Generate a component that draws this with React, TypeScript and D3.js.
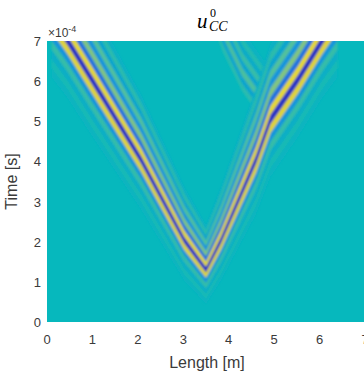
import React from 'react';
import * as d3 from 'd3';

const lengthTicks = [0, 1, 2, 3, 4, 5, 6, 7];
const timeTicks = [0, 1, 2, 3, 4, 5, 6, 7];

// main wavefront, centre (dark) stripe: x in m, t in 1e-4 s, w = stripe spacing (1e-4 s)
const mainX = [0.1, 0.46, 0.99, 2.07, 3.02, 3.5, 3.83, 4.6, 4.92, 5.52, 6.05, 6.4];
const mainT = [7.6, 7.0, 6.03, 4.04, 2.04, 1.3, 2.04, 4.04, 5.05, 6.03, 7.0, 7.6];
const mainW = [0.23, 0.22, 0.215, 0.19, 0.155, 0.13, 0.155, 0.21, 0.22, 0.22, 0.22, 0.23];
const mainK = [-6, -5, -4, -3, -2, -1, 0, 1, 2, 3, 4, 5, 6, 7, 8];
const mainAmp = [-0.04, 0.06, -0.1, 0.16, -0.35, 0.8, -1, 0.85, -0.62, 0.42, -0.36, 0.26, -0.2, 0.13, -0.08];

// faint reflected front leaving the kink near 4.9 m
const reflX = [4.95, 4.3, 3.88, 3.68];
const reflT = [5.0, 6.03, 7.0, 7.6];
const reflW = [0.19, 0.19, 0.19, 0.19];
const reflK = [-1, 0, 1, 2, 3, 4, 5, 6];
const reflAmp = [0.12, -0.2, 0.24, -0.2, 0.17, -0.13, 0.1, -0.06];

const W = 364;
const H = 373;
const plot = { left: 47, right: 365, top: 41, bottom: 322 };
const bg = '#06b8bd';

const xScale = d3.scaleLinear().domain([0, 7]).range([plot.left, plot.right]);
const yScale = d3.scaleLinear().domain([0, 7]).range([plot.bottom, plot.top]);
const color = d3.scaleLinear<string>()
  .domain([-1, -0.5, 0, 0.35, 0.7, 1])
  .range(['#2b35c4', '#1f86e8', bg, '#6cc490', '#d6c846', '#f5e824'])
  .clamp(true);

type Pt = { x: number; t: number; w: number };

function stripes(xs: number[], ts: number[], ws: number[], ks: number[], amps: number[], key: string) {
  const pts: Pt[] = xs.map((x, i) => ({ x, t: ts[i], w: ws[i] }));
  const order = ks.map((_, i) => i).sort((a, b) => Math.abs(amps[a]) - Math.abs(amps[b]));
  return order.map(i => {
    const k = ks[i];
    const area = d3.area<Pt>()
      .x(d => xScale(d.x))
      .y0(d => yScale(d.t + (k - 0.53) * d.w))
      .y1(d => yScale(d.t + (k + 0.53) * d.w));
    return <path key={key + i} d={area(pts) || ''} fill={color(amps[i])} />;
  });
}

export default function App() {
  const font = 'Liberation Sans, Arial, sans-serif';
  const tickColor = '#3a3a3a';
  return (
    <svg width={W} height={H} style={{ position: 'absolute', left: 0, top: 0, background: '#fff' }}>
      <defs>
        <clipPath id="plotClip">
          <rect x={plot.left} y={plot.top} width={plot.right - plot.left} height={plot.bottom - plot.top} />
        </clipPath>
        <filter id="soft" x="-5%" y="-5%" width="110%" height="110%">
          <feGaussianBlur stdDeviation="0.8" />
        </filter>
      </defs>

      <g clipPath="url(#plotClip)">
        <rect x={plot.left} y={plot.top} width={plot.right - plot.left} height={plot.bottom - plot.top} fill={bg} />
        <g filter="url(#soft)">
          {stripes(reflX, reflT, reflW, reflK, reflAmp, 'r')}
          {stripes(mainX, mainT, mainW, mainK, mainAmp, 'm')}
        </g>
      </g>

      {/* x ticks */}
      {lengthTicks.map(v => (
        <text key={'x' + v} x={xScale(v)} y={344} textAnchor="middle" fontFamily={font} fontSize={13} fill={tickColor}>
          {v}
        </text>
      ))}
      {/* y ticks */}
      {timeTicks.map(v => (
        <text key={'y' + v} x={41} y={yScale(v) + 5} textAnchor="end" fontFamily={font} fontSize={13} fill={tickColor}>
          {v}
        </text>
      ))}
      <text x={48} y={37} fontFamily={font} fontSize={12} fill={tickColor}>
        ×10<tspan dy={-5} fontSize={9}>-4</tspan>
      </text>

      <text x={207} y={368} textAnchor="middle" fontFamily={font} fontSize={16} fill={tickColor}>
        Length [m]
      </text>
      <text transform={`translate(17,${(plot.top + plot.bottom) / 2}) rotate(-90)`} textAnchor="middle" fontFamily={font} fontSize={16} fill={tickColor}>
        Time [s]
      </text>

      {/* title u^0_CC */}
      <text x={197} y={28} fontFamily="Liberation Serif, serif" fontStyle="italic" fontSize={21} fill="#000">u</text>
      <text x={210} y={17} fontFamily="Liberation Serif, serif" fontSize={12} fill="#000">0</text>
      <text x={209} y={31} fontFamily="Liberation Serif, serif" fontStyle="italic" fontSize={14} fill="#000">CC</text>
    </svg>
  );
}
